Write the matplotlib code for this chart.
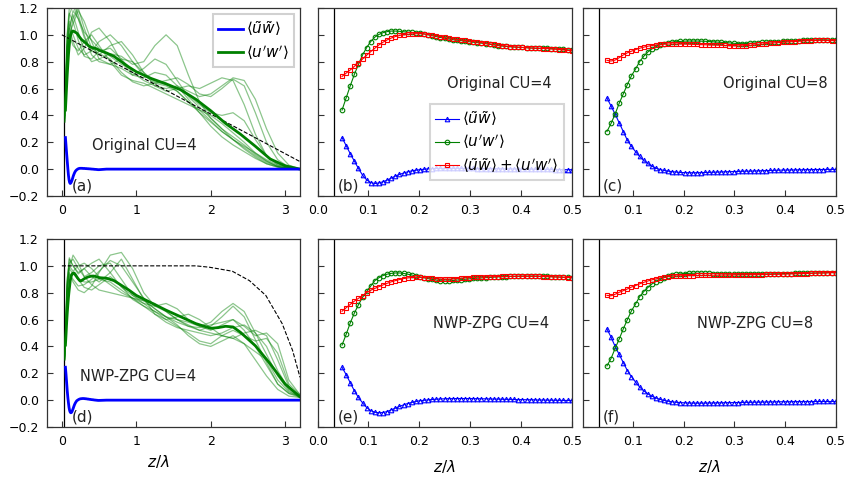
import numpy as np
import matplotlib.pyplot as plt

# near-wall sampling used in the zoomed panels
z = np.linspace(0.048, 0.5, 57)

b_wave = [0.235, 0.175, 0.115, 0.060, 0.005, -0.045, -0.080, -0.100, -0.107, -0.103,
          -0.094, -0.082, -0.067, -0.052, -0.040, -0.029, -0.020, -0.013, -0.008, -0.004,
          -0.001, 0.002, 0.004, 0.005, 0.006, 0.006, 0.006, 0.006, 0.006, 0.005,
          0.005, 0.005, 0.005, 0.004, 0.004, 0.004, 0.003, 0.003, 0.003, 0.002,
          0.002, 0.002, 0.001, 0.001, 0.000, 0.000, 0.000, -0.001, -0.001, -0.002,
          -0.002, -0.002, -0.003, -0.003, -0.004, -0.004, -0.004]
b_turb = [0.44, 0.53, 0.62, 0.705, 0.78, 0.85, 0.905, 0.95, 0.983, 1.003,
          1.016, 1.024, 1.028, 1.028, 1.026, 1.023, 1.020, 1.018, 1.015, 1.012,
          1.007, 1.000, 0.993, 0.987, 0.980, 0.975, 0.969, 0.964, 0.960, 0.957,
          0.953, 0.949, 0.945, 0.942, 0.938, 0.934, 0.930, 0.925, 0.920, 0.917,
          0.914, 0.911, 0.909, 0.907, 0.906, 0.904, 0.902, 0.901, 0.900, 0.900,
          0.899, 0.897, 0.896, 0.893, 0.891, 0.888, 0.885]
b_total = [0.690, 0.715, 0.738, 0.765, 0.792, 0.820, 0.848, 0.875, 0.900, 0.925,
           0.945, 0.962, 0.976, 0.987, 0.995, 1.000, 1.004, 1.007, 1.008, 1.008,
           1.006, 1.002, 0.997, 0.992, 0.986, 0.981, 0.975, 0.970, 0.966, 0.962,
           0.958, 0.954, 0.950, 0.946, 0.942, 0.938, 0.933, 0.928, 0.923, 0.919,
           0.916, 0.913, 0.910, 0.908, 0.906, 0.904, 0.902, 0.900, 0.899, 0.898,
           0.897, 0.895, 0.893, 0.890, 0.887, 0.884, 0.881]

c_wave = [0.530, 0.470, 0.410, 0.345, 0.280, 0.215, 0.170, 0.130, 0.095, 0.065,
          0.042, 0.022, 0.007, -0.003, -0.010, -0.015, -0.019, -0.022, -0.025, -0.026,
          -0.027, -0.027, -0.027, -0.026, -0.025, -0.024, -0.023, -0.022, -0.021, -0.020,
          -0.019, -0.018, -0.017, -0.016, -0.015, -0.015, -0.014, -0.013, -0.012, -0.011,
          -0.010, -0.009, -0.008, -0.007, -0.007, -0.006, -0.006, -0.005, -0.005, -0.004,
          -0.004, -0.003, -0.003, -0.003, -0.002, -0.002, -0.002]
c_turb = [0.280, 0.340, 0.410, 0.490, 0.560, 0.630, 0.695, 0.745, 0.800, 0.840,
          0.872, 0.895, 0.912, 0.925, 0.935, 0.942, 0.946, 0.949, 0.951, 0.953,
          0.954, 0.954, 0.954, 0.953, 0.952, 0.950, 0.948, 0.946, 0.944, 0.942,
          0.940, 0.937, 0.935, 0.934, 0.935, 0.937, 0.939, 0.941, 0.943, 0.945,
          0.947, 0.949, 0.950, 0.951, 0.952, 0.954, 0.955, 0.957, 0.958, 0.960,
          0.961, 0.962, 0.963, 0.963, 0.962, 0.961, 0.960]
c_total = [0.810, 0.805, 0.812, 0.830, 0.850, 0.866, 0.878, 0.890, 0.900, 0.908,
           0.915, 0.920, 0.924, 0.928, 0.930, 0.931, 0.932, 0.932, 0.932, 0.931,
           0.930, 0.929, 0.928, 0.927, 0.926, 0.925, 0.924, 0.923, 0.922, 0.921,
           0.920, 0.919, 0.918, 0.918, 0.920, 0.922, 0.925, 0.928, 0.931, 0.934,
           0.937, 0.940, 0.942, 0.944, 0.946, 0.948, 0.950, 0.952, 0.954, 0.956,
           0.957, 0.958, 0.959, 0.959, 0.958, 0.957, 0.956]

e_wave = [0.245, 0.190, 0.130, 0.070, 0.020, -0.020, -0.055, -0.078, -0.090, -0.094,
          -0.092, -0.085, -0.072, -0.060, -0.047, -0.035, -0.025, -0.017, -0.010, -0.004,
          -0.001, 0.002, 0.005, 0.007, 0.009, 0.010, 0.011, 0.011, 0.012, 0.012,
          0.012, 0.012, 0.011, 0.011, 0.010, 0.010, 0.009, 0.008, 0.008, 0.007,
          0.006, 0.006, 0.005, 0.004, 0.004, 0.003, 0.003, 0.002, 0.001, 0.001,
          0.000, 0.000, -0.001, -0.001, -0.002, -0.002, -0.002]
e_turb = [0.410, 0.490, 0.575, 0.648, 0.710, 0.765, 0.810, 0.850, 0.890, 0.912,
          0.928, 0.938, 0.944, 0.947, 0.947, 0.944, 0.938, 0.932, 0.925, 0.918,
          0.911, 0.905, 0.899, 0.894, 0.889, 0.887, 0.888, 0.891, 0.894, 0.897,
          0.900, 0.903, 0.906, 0.908, 0.910, 0.912, 0.914, 0.916, 0.918, 0.919,
          0.920, 0.921, 0.922, 0.923, 0.924, 0.924, 0.924, 0.924, 0.923, 0.922,
          0.921, 0.920, 0.918, 0.917, 0.915, 0.914, 0.912]
e_total = [0.662, 0.688, 0.713, 0.737, 0.758, 0.778, 0.800, 0.818, 0.832, 0.845,
           0.858, 0.870, 0.881, 0.890, 0.898, 0.905, 0.910, 0.913, 0.914, 0.914,
           0.912, 0.910, 0.907, 0.904, 0.902, 0.901, 0.901, 0.902, 0.905, 0.908,
           0.910, 0.912, 0.914, 0.915, 0.916, 0.917, 0.918, 0.919, 0.920, 0.921,
           0.921, 0.922, 0.922, 0.922, 0.922, 0.922, 0.922, 0.922, 0.921, 0.920,
           0.919, 0.918, 0.917, 0.916, 0.915, 0.913, 0.912]

f_wave = [0.530, 0.470, 0.400, 0.340, 0.280, 0.220, 0.175, 0.135, 0.098, 0.070,
          0.047, 0.030, 0.016, 0.006, -0.002, -0.008, -0.012, -0.016, -0.018, -0.020,
          -0.021, -0.022, -0.022, -0.022, -0.022, -0.021, -0.021, -0.020, -0.020, -0.019,
          -0.019, -0.018, -0.018, -0.017, -0.016, -0.016, -0.015, -0.015, -0.014, -0.014,
          -0.013, -0.013, -0.012, -0.012, -0.012, -0.012, -0.011, -0.011, -0.011, -0.011,
          -0.011, -0.010, -0.010, -0.010, -0.010, -0.010, -0.010]
f_turb = [0.255, 0.310, 0.385, 0.455, 0.530, 0.600, 0.665, 0.715, 0.770, 0.808,
          0.838, 0.865, 0.883, 0.898, 0.912, 0.922, 0.930, 0.936, 0.940, 0.943,
          0.944, 0.945, 0.945, 0.945, 0.944, 0.944, 0.943, 0.942, 0.941, 0.940,
          0.939, 0.938, 0.937, 0.937, 0.937, 0.938, 0.938, 0.939, 0.939, 0.940,
          0.940, 0.941, 0.941, 0.942, 0.943, 0.943, 0.944, 0.944, 0.945, 0.946,
          0.946, 0.947, 0.948, 0.948, 0.949, 0.950, 0.950]
f_total = [0.780, 0.777, 0.788, 0.803, 0.815, 0.828, 0.842, 0.853, 0.866, 0.877,
           0.887, 0.896, 0.903, 0.910, 0.915, 0.919, 0.922, 0.925, 0.926, 0.927,
           0.928, 0.928, 0.929, 0.929, 0.930, 0.930, 0.930, 0.930, 0.931, 0.931,
           0.931, 0.932, 0.932, 0.932, 0.933, 0.933, 0.934, 0.934, 0.935, 0.936,
           0.936, 0.937, 0.937, 0.938, 0.939, 0.940, 0.940, 0.941, 0.942, 0.943,
           0.944, 0.945, 0.946, 0.947, 0.948, 0.949, 0.950]

# far field of the mean profiles in (a) and (d)
z_far_a = [0.6, 0.7, 0.8, 0.9, 1.0, 1.2, 1.4, 1.6, 1.8, 2.0, 2.2, 2.4, 2.6, 2.8, 3.0, 3.2]
turb_far_a = [0.865, 0.84, 0.80, 0.76, 0.725, 0.675, 0.635, 0.59, 0.52, 0.435,
              0.34, 0.26, 0.17, 0.075, 0.025, 0.0]
z_far_d = [0.6, 0.7, 0.8, 0.9, 1.0, 1.2, 1.4, 1.6, 1.8, 2.0, 2.1, 2.2, 2.3, 2.4,
           2.6, 2.8, 3.0, 3.2]
turb_far_d = [0.908, 0.89, 0.855, 0.82, 0.78, 0.725, 0.67, 0.62, 0.57, 0.535, 0.54,
              0.55, 0.545, 0.505, 0.405, 0.27, 0.12, 0.025]

# dashed reference profiles
ref_z_a = [0.0, 0.5, 1.0, 1.5, 2.0, 2.5, 3.0, 3.2]
ref_a = [1.0, 0.853, 0.705, 0.558, 0.41, 0.263, 0.115, 0.056]
ref_z_d = [0.0, 1.0, 1.8, 1.98, 2.29, 2.52, 2.74, 2.96, 3.1, 3.2]
ref_d = [1.0, 1.0, 1.0, 0.99, 0.96, 0.89, 0.78, 0.57, 0.37, 0.17]

# individual realisations (thin lines)
z_thin = [0.04, 0.07, 0.1, 0.15, 0.22, 0.3, 0.4, 0.5, 0.65, 0.8, 0.95, 1.1, 1.25,
          1.4, 1.55, 1.7, 1.85, 2.0, 2.15, 2.3, 2.45, 2.6, 2.75, 2.9, 3.05, 3.2]
thin_a = [
    [0.40, 0.95, 1.15, 1.22, 1.12, 0.98, 0.88, 0.85, 0.92, 0.95, 0.85, 0.72, 0.65, 0.63, 0.60, 0.55, 0.48, 0.42, 0.40, 0.42, 0.36, 0.22, 0.10, 0.04, 0.01, 0.0],
    [0.35, 0.90, 1.05, 0.95, 0.85, 0.90, 1.02, 1.05, 0.95, 0.80, 0.70, 0.68, 0.72, 0.70, 0.62, 0.52, 0.42, 0.32, 0.24, 0.18, 0.13, 0.08, 0.04, 0.015, 0.005, 0.0],
    [0.45, 1.00, 1.20, 1.25, 1.15, 1.00, 0.85, 0.80, 0.78, 0.82, 0.80, 0.72, 0.62, 0.58, 0.60, 0.62, 0.60, 0.64, 0.68, 0.66, 0.48, 0.26, 0.10, 0.03, 0.01, 0.0],
    [0.38, 0.88, 1.00, 1.08, 1.18, 1.10, 0.95, 0.82, 0.78, 0.75, 0.70, 0.75, 0.82, 0.78, 0.66, 0.54, 0.46, 0.38, 0.30, 0.22, 0.15, 0.09, 0.04, 0.015, 0.005, 0.0],
    [0.42, 0.92, 1.10, 1.00, 0.90, 0.85, 0.88, 0.95, 1.00, 0.92, 0.80, 0.70, 0.64, 0.62, 0.58, 0.50, 0.42, 0.35, 0.28, 0.22, 0.16, 0.10, 0.05, 0.02, 0.005, 0.0],
    [0.36, 0.85, 0.98, 1.12, 1.20, 1.05, 0.90, 0.86, 0.82, 0.72, 0.65, 0.62, 0.64, 0.66, 0.68, 0.63, 0.56, 0.54, 0.60, 0.67, 0.62, 0.42, 0.20, 0.07, 0.015, 0.0],
    [0.40, 0.90, 1.06, 1.15, 1.02, 0.88, 0.80, 0.82, 0.86, 0.84, 0.78, 0.80, 0.92, 1.00, 0.92, 0.70, 0.50, 0.38, 0.30, 0.24, 0.18, 0.11, 0.06, 0.02, 0.005, 0.0],
    [0.35, 0.86, 1.00, 0.92, 0.88, 0.95, 1.00, 0.92, 0.80, 0.70, 0.66, 0.64, 0.60, 0.56, 0.52, 0.48, 0.44, 0.40, 0.34, 0.27, 0.20, 0.12, 0.06, 0.02, 0.005, 0.0],
    [0.44, 0.98, 1.16, 1.10, 0.96, 0.84, 0.82, 0.88, 0.90, 0.82, 0.72, 0.66, 0.62, 0.60, 0.62, 0.58, 0.54, 0.56, 0.62, 0.68, 0.66, 0.52, 0.30, 0.12, 0.03, 0.0],
    [0.39, 0.90, 1.04, 1.18, 1.12, 1.02, 0.96, 0.90, 0.84, 0.78, 0.74, 0.70, 0.66, 0.64, 0.58, 0.50, 0.44, 0.36, 0.28, 0.22, 0.17, 0.12, 0.07, 0.03, 0.01, 0.0],
]
thin_d = [
    [0.32, 0.85, 1.05, 1.00, 0.95, 0.98, 0.92, 0.88, 0.95, 1.05, 0.90, 0.75, 0.68, 0.62, 0.58, 0.55, 0.52, 0.55, 0.62, 0.70, 0.62, 0.45, 0.28, 0.12, 0.05, 0.03],
    [0.30, 0.80, 0.95, 0.88, 0.82, 0.80, 0.85, 0.95, 1.08, 1.10, 0.98, 0.80, 0.70, 0.66, 0.60, 0.56, 0.52, 0.50, 0.48, 0.46, 0.42, 0.36, 0.30, 0.15, 0.06, 0.03],
    [0.35, 0.90, 1.02, 1.05, 0.98, 0.92, 0.95, 1.00, 1.02, 0.90, 0.78, 0.72, 0.70, 0.72, 0.68, 0.60, 0.55, 0.58, 0.66, 0.72, 0.66, 0.50, 0.34, 0.18, 0.07, 0.02],
    [0.30, 0.78, 0.92, 0.95, 0.90, 0.84, 0.82, 0.86, 0.92, 0.85, 0.75, 0.70, 0.66, 0.60, 0.55, 0.50, 0.44, 0.42, 0.48, 0.52, 0.48, 0.44, 0.46, 0.35, 0.12, 0.04],
    [0.33, 0.86, 1.00, 0.96, 1.00, 1.02, 0.98, 0.92, 0.86, 0.80, 0.76, 0.74, 0.68, 0.62, 0.56, 0.48, 0.42, 0.40, 0.44, 0.48, 0.42, 0.30, 0.18, 0.08, 0.03, 0.02],
    [0.31, 0.82, 0.98, 1.08, 1.02, 0.92, 0.86, 0.82, 0.80, 0.78, 0.76, 0.72, 0.66, 0.62, 0.60, 0.58, 0.55, 0.52, 0.56, 0.60, 0.55, 0.48, 0.50, 0.42, 0.15, 0.04],
    [0.34, 0.88, 1.06, 1.00, 0.94, 0.98, 1.02, 1.05, 0.95, 0.84, 0.78, 0.74, 0.72, 0.66, 0.60, 0.55, 0.54, 0.56, 0.58, 0.60, 0.52, 0.40, 0.26, 0.12, 0.05, 0.02],
    [0.30, 0.80, 0.94, 0.90, 0.85, 0.86, 0.90, 0.96, 1.04, 1.00, 0.88, 0.76, 0.64, 0.58, 0.54, 0.52, 0.50, 0.48, 0.50, 0.54, 0.56, 0.50, 0.40, 0.22, 0.08, 0.03],
    [0.33, 0.84, 0.98, 0.94, 0.90, 0.88, 0.88, 0.90, 0.88, 0.82, 0.76, 0.70, 0.64, 0.60, 0.62, 0.64, 0.60, 0.54, 0.48, 0.46, 0.50, 0.52, 0.48, 0.30, 0.10, 0.03],
]

wall_z = 0.032
lab_wave = r'$\langle\tilde{u}\tilde{w}\rangle$'
lab_turb = r"$\langle u'w'\rangle$"
lab_total = r"$\langle\tilde{u}\tilde{w}\rangle+\langle u'w'\rangle$"

plt.rcParams['font.family'] = 'DejaVu Sans'
plt.rcParams['mathtext.fontset'] = 'dejavusans'

fig = plt.figure(figsize=(8.48, 4.8), dpi=100)
lefts = [0.0554, 0.3746, 0.6871]
widths = [0.2984, 0.2995, 0.2983]
bottoms = [0.5917, 0.1104]
h = 0.3917
axs = [[fig.add_axes([lefts[j], bottoms[i], widths[j], h]) for j in range(3)]
       for i in range(2)]

for i in range(2):
    for j in range(3):
        ax = axs[i][j]
        ax.set_ylim(-0.2, 1.2)
        ax.set_yticks([-0.2, 0.0, 0.2, 0.4, 0.6, 0.8, 1.0, 1.2])
        ax.tick_params(direction='in', length=4, width=0.8, pad=6,
                       labelsize=9, color='#333333')
        for s in ax.spines.values():
            s.set_color('#333333')
            s.set_linewidth(0.9)
        ax.axvline(wall_z, color='black', lw=0.9)
        if j == 0:
            ax.set_xlim(-0.2, 3.2)
            ax.set_xticks([0, 1, 2, 3])
        else:
            ax.set_xlim(0.0, 0.5)
            ax.set_yticklabels([])
            if j == 1:
                ax.set_xticks([0.0, 0.1, 0.2, 0.3, 0.4, 0.5])
            else:
                ax.set_xticks([0.1, 0.2, 0.3, 0.4, 0.5])
        if i == 1:
            ax.set_xlabel(r'$z/\lambda$', fontsize=11, labelpad=7)

# left column: realisations and means
for ax, thin, ref_z, ref, zf, tf, wave, turb in [
        (axs[0][0], thin_a, ref_z_a, ref_a, z_far_a, turb_far_a, b_wave, b_turb),
        (axs[1][0], thin_d, ref_z_d, ref_d, z_far_d, turb_far_d, e_wave, e_turb)]:
    for line in thin:
        ax.plot(z_thin, line, color='green', lw=0.9, alpha=0.45)
    ax.plot(ref_z, ref, color='black', ls='--', lw=0.8)
    zz = np.concatenate([z, zf])
    ax.plot(zz, np.concatenate([turb, tf]), color='green', lw=2, label=lab_turb)
    ax.plot(zz, np.concatenate([wave, np.zeros(len(zf))]), color='blue', lw=2,
            label=lab_wave)
axs[1][0].xaxis.set_label_coords(0.44, -0.14)

h1, l1 = axs[0][0].get_legend_handles_labels()
leg = axs[0][0].legend(h1[::-1], l1[::-1], loc='upper right', fontsize=11,
                       handlelength=1.6, handletextpad=0.2, labelspacing=0.3,
                       borderpad=0.35, fancybox=False, framealpha=0.9,
                       borderaxespad=0.4)
leg.get_frame().set_edgecolor('#cccccc')
leg.get_frame().set_linewidth(1.5)

# zoomed panels
mk = dict(ms=3.3, mfc='none', mew=0.8, lw=0.8)
for ax, wave, turb, total in [(axs[0][1], b_wave, b_turb, b_total),
                              (axs[0][2], c_wave, c_turb, c_total),
                              (axs[1][1], e_wave, e_turb, e_total),
                              (axs[1][2], f_wave, f_turb, f_total)]:
    ax.plot(z, wave, color='blue', marker='^', label=lab_wave, **mk)
    ax.plot(z, turb, color='green', marker='o', label=lab_turb, **mk)
    ax.plot(z, total, color='red', marker='s', label=lab_total, **mk)

leg2 = axs[0][1].legend(loc='lower right', bbox_to_anchor=(0.968, 0.085),
                        fontsize=11, handlelength=1.6, handletextpad=0.2,
                        labelspacing=0.3, borderpad=0.35, numpoints=1,
                        fancybox=False, framealpha=0.8, borderaxespad=0.0)
leg2.get_frame().set_edgecolor('#cccccc')
leg2.get_frame().set_linewidth(1.5)

# annotations
notes = [(axs[0][0], 0.40, 0.173, 'Original CU=4'),
         (axs[0][1], 0.255, 0.64, 'Original CU=4'),
         (axs[0][2], 0.278, 0.64, 'Original CU=8'),
         (axs[1][0], 0.24, 0.175, 'NWP-ZPG CU=4'),
         (axs[1][1], 0.227, 0.57, 'NWP-ZPG CU=4'),
         (axs[1][2], 0.226, 0.57, 'NWP-ZPG CU=8')]
for ax, x, y, s in notes:
    ax.text(x, y, s, fontsize=10.5, va='center', ha='left', color='#222222')

tags = ['(a)', '(b)', '(c)', '(d)', '(e)', '(f)']
tag_x = [0.098, 0.08, 0.08, 0.098, 0.08, 0.08]
for k in range(6):
    ax = axs[k // 3][k % 3]
    ax.text(tag_x[k], 0.015, tags[k], transform=ax.transAxes, fontsize=11,
            va='bottom', ha='left', color='#222222')

fig.savefig('out.png', dpi=100)
